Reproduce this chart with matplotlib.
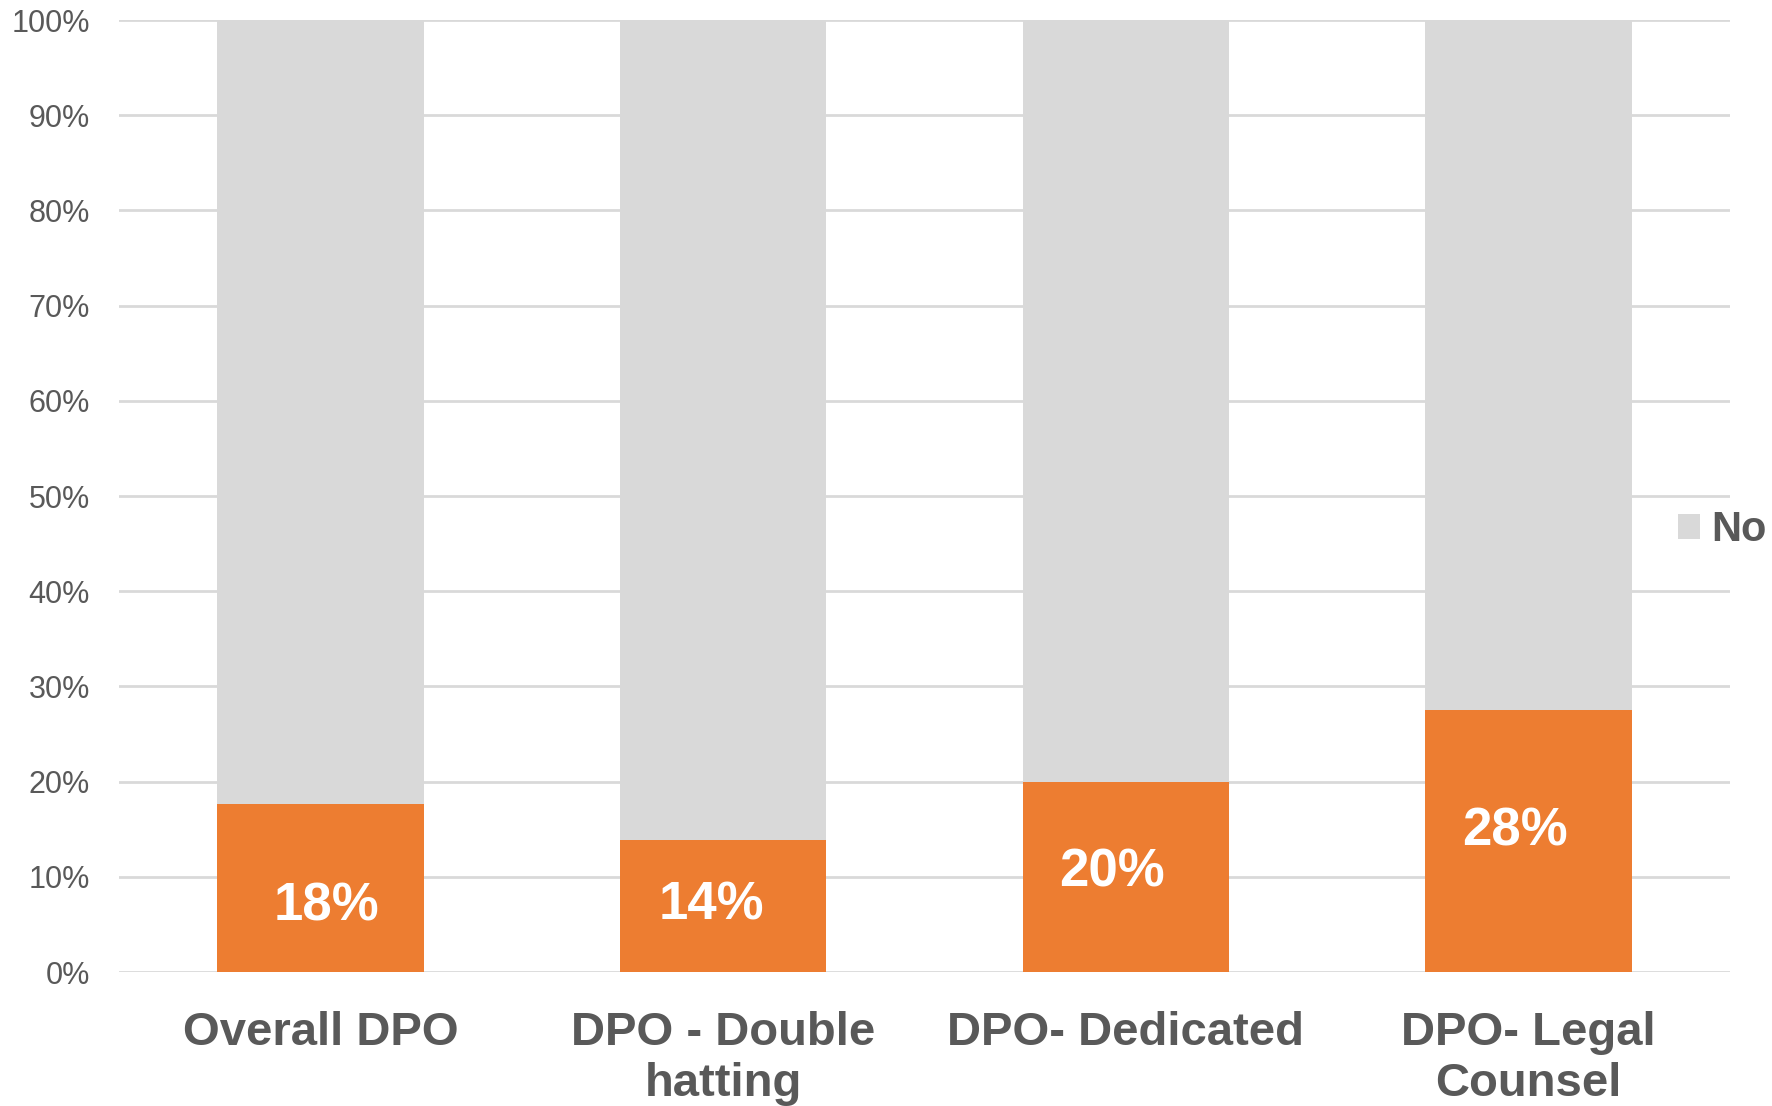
import matplotlib
matplotlib.use("Agg")
import matplotlib.pyplot as plt
import numpy as np

categories = ["Overall DPO", "DPO - Double\nhatting", "DPO- Dedicated", "DPO- Legal\nCounsel"]
yes_values = [17.6, 13.9, 20.0, 27.5]
yes_labels = ["18%", "14%", "20%", "28%"]
no_values = [100 - v for v in yes_values]
yticks = list(range(0, 101, 10))
ytick_labels = [f"{t}%" for t in yticks]

plt.rcParams['font.family'] = ['Liberation Sans', 'DejaVu Sans']

fig = plt.figure(figsize=(17.72, 11.06), dpi=100)
ax = fig.add_axes([119/1772, 1 - 972/1106, (1730 - 119)/1772, (972 - 20)/1106])

x = np.arange(len(categories))
orange = "#ED7D31"
grey = "#D9D9D9"
txt = "#595959"

ax.bar(x, yes_values, width=0.513, color=orange, zorder=2, label="Yes")
bars_no = ax.bar(x, no_values, bottom=yes_values, width=0.513, color=grey, zorder=2, label="No")

label_frac = [0.39, 0.50, 0.525, 0.535]
label_dx = [0.015, -0.03, -0.035, -0.035]
for xi, v, lab, f, dx in zip(x, yes_values, yes_labels, label_frac, label_dx):
    ax.text(xi + dx, v * f, lab, ha="center", va="center", color="white",
            fontsize=38, fontweight="bold", zorder=3)

ax.set_xlim(-0.5, 3.5)
ax.set_ylim(0, 100)
ax.set_yticks(yticks)
ax.set_yticklabels(ytick_labels, fontsize=22, color=txt)
ax.set_xticks(x)
ax.set_xticklabels(categories, fontsize=34, fontweight="bold", color=txt, linespacing=1.22, va="top")
ax.tick_params(axis="y", length=0, pad=21)
ax.tick_params(axis="x", length=0, pad=28)
ax.yaxis.grid(True, color="#D9D9D9", linewidth=2, zorder=0)
ax.set_axisbelow(True)
for s in ax.spines.values():
    s.set_visible(False)

fig.legend(handles=[bars_no], labels=["No"], loc="center left",
           bbox_to_anchor=(1640/1772, 1 - 530/1106), frameon=False,
           prop={"size": 30, "weight": "bold"}, labelcolor=txt,
           handlelength=0.55, handleheight=0.55, handletextpad=0.25)

fig.savefig("out.png", dpi=100)
